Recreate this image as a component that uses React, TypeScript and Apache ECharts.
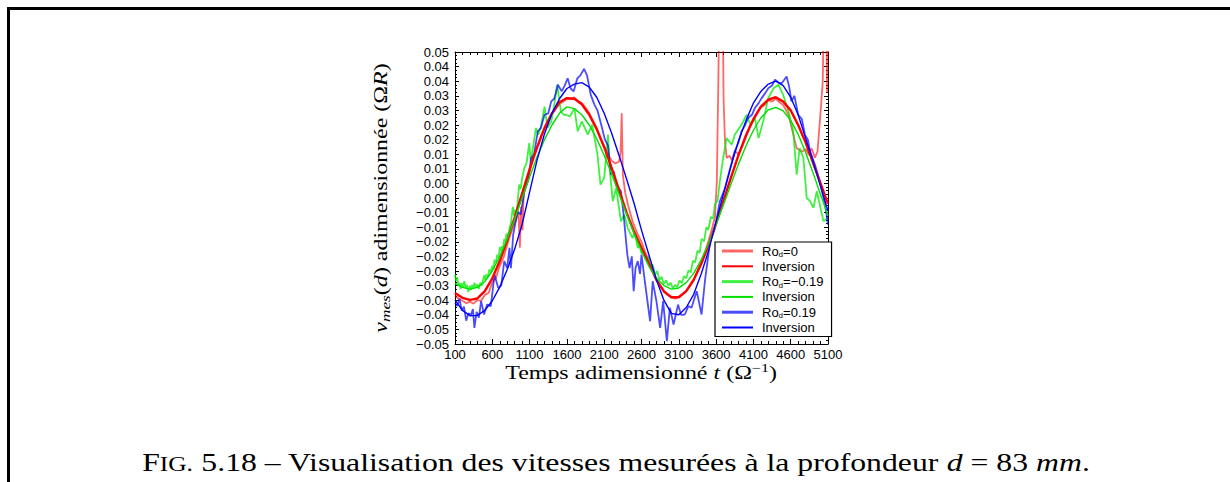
import React, { useEffect, useRef } from 'react';
import * as echarts from 'echarts';

// ---- tick labels ----
const xTickValues = [100, 600, 1100, 1600, 2100, 2600, 3100, 3600, 4100, 4600, 5100];
const xTickLabels = ['100', '600', '1100', '1600', '2100', '2600', '3100', '3600', '4100', '4600', '5100'];
// bottom (-0.05) to top (0.05), every 0.005
const yTickLabels = [
  '\u22120.05', '\u22120.05', '\u22120.04', '\u22120.04', '\u22120.03', '\u22120.03', '\u22120.02', '\u22120.02',
  '\u22120.01', '\u22120.01', '0.00', '0.00', '0.01', '0.01', '0.02', '0.02', '0.03', '0.03', '0.04', '0.04', '0.05',
];

// ---- legend labels ----
const seriesNames = ['Ro_d=0', 'inv_r', 'Ro_d=-0.19', 'inv_g', 'Ro_d=0.19', 'inv_b'];
const legendLabels = ['Ro{sub|d}=0', 'Inversion', 'Ro{sub|d}=\u22120.19', 'Inversion', 'Ro{sub|d}=0.19', 'Inversion'];

// ---- inversion curves (sampled every 100) ----
const invTimes = [
  100, 200, 300, 400, 500, 600, 700, 800, 900, 1000, 1100, 1200, 1300, 1400, 1500, 1600, 1700, 1800, 1900, 2000,
  2100, 2200, 2300, 2400, 2500, 2600, 2700, 2800, 2900, 3000, 3100, 3200, 3300, 3400, 3500, 3600, 3700, 3800, 3900,
  4000, 4100, 4200, 4300, 4400, 4500, 4600, 4700, 4800, 4900, 5000, 5100,
];
const redInversion = [
  -0.0325, -0.0342, -0.0349, -0.0344, -0.0319, -0.0275, -0.0216, -0.0145, -0.0067, 0.0016, 0.0098, 0.0173, 0.024,
  0.029, 0.0328, 0.0342, 0.034, 0.0321, 0.0285, 0.0236, 0.0174, 0.0103, 0.0027, -0.005, -0.0115, -0.017, -0.0225,
  -0.028, -0.032, -0.034, -0.034, -0.0319, -0.028, -0.0226, -0.0161, -0.0087, -0.0008, 0.0071, 0.0147, 0.0214, 0.027,
  0.0313, 0.0337, 0.0345, 0.033, 0.03, 0.025, 0.019, 0.012, 0.005, -0.002,
];
const greenInversion = [
  -0.0292, -0.0306, -0.0312, -0.0306, -0.0286, -0.025, -0.02, -0.014, -0.0072, 0.0, 0.0072, 0.014, 0.02, 0.025, 0.029,
  0.0312, 0.0306, 0.0285, 0.025, 0.0203, 0.0146, 0.0082, 0.0013, -0.0056, -0.0122, -0.0182, -0.0234, -0.0274, -0.03,
  -0.0312, -0.0308, -0.029, -0.0258, -0.0212, -0.0156, -0.0092, -0.0022, 0.0048, 0.0116, 0.0178, 0.0232, 0.0274,
  0.0302, 0.031, 0.0298, 0.0266, 0.0218, 0.0156, 0.0086, 0.0012, -0.006,
];
const blueInversion = [
  -0.035, -0.0385, -0.0403, -0.0402, -0.0385, -0.0352, -0.0305, -0.0245, -0.0175, -0.009, 0.002, 0.013, 0.022, 0.029,
  0.034, 0.0375, 0.039, 0.0395, 0.038, 0.0345, 0.029, 0.0222, 0.0145, 0.0065, -0.0018, -0.011, -0.0195, -0.028,
  -0.035, -0.0395, -0.04, -0.0375, -0.033, -0.026, -0.018, -0.008, 0.0015, 0.011, 0.0195, 0.0265, 0.0325, 0.0365,
  0.039, 0.04, 0.0385, 0.0345, 0.0285, 0.0205, 0.0125, 0.004, -0.0045,
];

// ---- measured velocities [t, v] ----
const redMeasured = [
  [100, -0.0335], [150, -0.0345], [200, -0.0352], [250, -0.036], [300, -0.0355], [350, -0.0362], [400, -0.035],
  [450, -0.0352], [500, -0.0332], [550, -0.0325], [600, -0.029], [650, -0.0272], [700, -0.0232], [750, -0.0205],
  [800, -0.016], [850, -0.012], [900, -0.0085], [950, -0.005], [970, -0.017], [985, -0.003], [1005, -0.011],
  [1020, 0.001], [1050, 0.0045], [1100, 0.009], [1150, 0.014], [1200, 0.0172], [1250, 0.021], [1300, 0.0238],
  [1350, 0.0262], [1400, 0.0288], [1450, 0.0305], [1500, 0.0322], [1550, 0.033], [1600, 0.034], [1650, 0.0338],
  [1700, 0.0345], [1750, 0.0332], [1800, 0.0325], [1850, 0.031], [1900, 0.029], [1950, 0.0265], [2000, 0.0238],
  [2050, 0.0205], [2100, 0.0178], [2150, 0.015], [2200, 0.0128], [2250, 0.0118], [2300, 0.0125], [2320, 0.016],
  [2335, 0.029], [2350, 0.008], [2380, 0.002], [2420, -0.0025], [2480, -0.008], [2550, -0.0125], [2600, -0.015],
  [2650, -0.0185], [2700, -0.0215], [2750, -0.025], [2800, -0.0282], [2850, -0.03], [2900, -0.0318], [2950, -0.033],
  [3000, -0.034], [3050, -0.0345], [3100, -0.0338], [3150, -0.033], [3200, -0.0318], [3250, -0.03], [3300, -0.028],
  [3350, -0.025], [3400, -0.0218], [3450, -0.0185], [3500, -0.0145], [3550, -0.01], [3585, -0.0065], [3610, 0.0057],
  [3630, 0.04], [3645, 0.07], [3670, 0.08], [3690, 0.065], [3700, 0.034], [3720, 0.019], [3742, 0.0137],
  [3780, 0.0145], [3810, 0.013], [3855, 0.016], [3900, 0.015], [3940, 0.017], [4000, 0.021], [4050, 0.0245],
  [4100, 0.0265], [4150, 0.029], [4200, 0.031], [4250, 0.0318], [4300, 0.0335], [4350, 0.033], [4400, 0.034],
  [4450, 0.0328], [4500, 0.0318], [4570, 0.0285], [4635, 0.0217], [4680, 0.017], [4750, 0.0158], [4800, 0.0168],
  [4840, 0.0148], [4880, 0.017], [4925, 0.0138], [4960, 0.016], [4980, 0.0228], [5005, 0.031], [5030, 0.04],
  [5045, 0.07], [5075, 0.065], [5088, 0.036], [5100, 0.06],
];
const greenMeasured = [
  [100, -0.0262], [115, -0.0285], [130, -0.0272], [145, -0.03], [160, -0.029], [175, -0.0312], [190, -0.0292],
  [210, -0.0305], [225, -0.0285], [245, -0.031], [260, -0.0298], [280, -0.0322], [300, -0.03], [315, -0.0315],
  [330, -0.0298], [345, -0.0312], [360, -0.029], [380, -0.0308], [400, -0.0295], [420, -0.0312], [440, -0.029],
  [460, -0.03], [490, -0.0265], [505, -0.028], [520, -0.0262], [540, -0.0272], [560, -0.0245], [580, -0.0255],
  [600, -0.0232], [615, -0.0245], [630, -0.0212], [650, -0.0222], [665, -0.0195], [685, -0.0205], [700, -0.0168],
  [715, -0.0182], [730, -0.0165], [745, -0.017], [760, -0.014], [775, -0.015], [790, -0.0122], [810, -0.013],
  [830, -0.0105], [850, -0.0085], [875, -0.003], [890, -0.006], [900, -0.004], [920, -0.0055], [940, -0.0015],
  [960, 0.0046], [980, 0.003], [1000, 0.0068], [1030, 0.0103],
  [1060, 0.012], [1095, 0.0188], [1115, 0.0125], [1150, 0.018], [1185, 0.024], [1215, 0.0217], [1250, 0.024],
  [1300, 0.0313], [1340, 0.024], [1390, 0.0262], [1430, 0.0319], [1470, 0.0388], [1520, 0.0296], [1560, 0.0285],
  [1590, 0.0285], [1640, 0.0279], [1700, 0.0308], [1745, 0.0228], [1800, 0.0262], [1840, 0.024], [1880, 0.0217],
  [1940, 0.0251], [2010, 0.0148], [2050, 0.0046], [2100, 0.0068], [2150, 0.0217], [2180, 0.008], [2215, -0.0011],
  [2260, 0.0034], [2325, -0.008], [2370, -0.0057], [2415, -0.0103], [2480, -0.0137], [2510, -0.012],
  [2550, -0.0171], [2575, -0.016], [2600, -0.019], [2630, -0.0178], [2660, -0.0212], [2690, -0.02], [2720, -0.0235],
  [2750, -0.0228], [2780, -0.0262], [2810, -0.025], [2840, -0.028], [2870, -0.027], [2900, -0.0295], [2930, -0.0282],
  [2960, -0.03], [2990, -0.029], [3020, -0.031], [3050, -0.0298], [3080, -0.0305], [3110, -0.0282], [3140, -0.0292],
  [3170, -0.0268], [3200, -0.0275], [3230, -0.0248], [3260, -0.0255], [3290, -0.0215], [3320, -0.022],
  [3350, -0.018], [3380, -0.0188], [3405, -0.014], [3440, -0.0148], [3470, -0.01], [3495, -0.011], [3530, -0.0065],
  [3560, -0.007], [3585, -0.002], [3620, -0.001], [3650, 0.0057], [3695, 0.0137], [3740, 0.0205], [3810, 0.0183],
  [3850, 0.0217], [3940, 0.0251], [4010, 0.0285], [4060, 0.0251], [4120, 0.0274], [4170, 0.0205], [4230, 0.0262],
  [4300, 0.0342], [4370, 0.0376], [4435, 0.0388], [4500, 0.0353], [4570, 0.0296], [4635, 0.0228], [4680, 0.008],
  [4720, 0.0171], [4770, 0.0137], [4815, 0.0], [4860, -0.0011], [4905, -0.0034], [4950, 0.0023], [4990, -0.0023],
  [5040, -0.008], [5100, -0.0068],
];
const blueMeasured = [
  [100, -0.036], [130, -0.037], [160, -0.0345], [190, -0.0385], [220, -0.0372], [250, -0.042], [280, -0.0395],
  [315, -0.04], [340, -0.038], [360, -0.0445], [390, -0.039], [420, -0.041], [450, -0.0353], [490, -0.0399],
  [530, -0.0365], [580, -0.037], [630, -0.0262], [680, -0.0308], [720, -0.03], [760, -0.0216], [800, -0.024],
  [830, -0.0171], [850, -0.024], [880, -0.0125], [940, -0.0046], [980, -0.0057], [1030, 0.0023], [1080, 0.006],
  [1120, 0.0137], [1160, 0.015], [1210, 0.0228], [1250, 0.024], [1300, 0.0285], [1350, 0.029], [1390, 0.0331],
  [1430, 0.034], [1480, 0.0388], [1530, 0.0365], [1570, 0.0385], [1610, 0.041], [1650, 0.0375], [1690, 0.0365],
  [1740, 0.041], [1780, 0.042], [1830, 0.0442], [1870, 0.042], [1920, 0.0353], [1970, 0.0319], [2010, 0.03],
  [2060, 0.0251], [2110, 0.02], [2150, 0.018], [2190, 0.008], [2230, 0.009], [2260, 0.0045], [2325, 0.0023],
  [2360, -0.0057], [2410, -0.0194], [2440, -0.024], [2470, -0.02], [2495, -0.0319], [2520, -0.024], [2550, -0.0216],
  [2580, -0.026], [2600, -0.0194], [2650, -0.0296], [2715, -0.0422], [2750, -0.0285], [2800, -0.0353],
  [2850, -0.0445], [2890, -0.0353], [2940, -0.049], [2980, -0.0376], [3030, -0.0433], [3090, -0.0365],
  [3130, -0.04], [3180, -0.0399], [3230, -0.037], [3270, -0.0376], [3340, -0.0319], [3405, -0.0399],
  [3450, -0.0285], [3520, -0.0148], [3585, -0.0103], [3650, -0.0011], [3720, 0.0034], [3790, 0.0103],
  [3850, 0.016], [3900, 0.019], [3940, 0.0228], [3990, 0.025], [4030, 0.0274], [4080, 0.0285], [4120, 0.0308],
  [4170, 0.0325], [4210, 0.0342], [4260, 0.036], [4300, 0.0376], [4350, 0.0385], [4390, 0.0405], [4440, 0.0395],
  [4480, 0.0393], [4545, 0.0416], [4580, 0.038], [4610, 0.0331], [4650, 0.035], [4700, 0.0285], [4750, 0.027],
  [4790, 0.0217], [4830, 0.02], [4860, 0.016], [4925, 0.0114], [4990, 0.0057], [5060, -0.0023], [5100, -0.0091],
];

const pair = (vals: number[]) => vals.map((v, i) => [invTimes[i], v]);

const black = '#000';
const sans = 'Liberation Sans';
const serif = 'Liberation Serif';

function xLabel(v: number) {
  const i = xTickValues.indexOf(Math.round(v));
  return i >= 0 ? xTickLabels[i] : '';
}
function yLabel(v: number) {
  const i = Math.round(v / 0.005) + 10;
  return yTickLabels[i] ?? '';
}

const baseX = {
  type: 'value', min: 100, max: 5100, splitLine: { show: false },
};
const baseY = {
  type: 'value', min: -0.05, max: 0.05, interval: 0.005, splitLine: { show: false },
  axisLine: { show: true, onZero: false, lineStyle: { color: black, width: 1 } },
  axisTick: { show: true, inside: true, length: 4, lineStyle: { color: black, width: 1 } },
  minorTick: { show: true, splitNumber: 4, length: 2, lineStyle: { color: black, width: 1 } },
};

function line(name: string, data: number[][], color: string, width: number, z: number) {
  return {
    type: 'line', name, data, symbol: 'none', showSymbol: false, clip: true, silent: true,
    lineStyle: { color, width }, itemStyle: { color }, z,
  };
}

const thickIcon = 'path://M0 0H31V3H0Z';
const thinIcon = 'path://M0 0H31V2H0Z';

export default function App() {
  const ref = useRef<HTMLDivElement>(null);
  useEffect(() => {
    const chart = echarts.init(ref.current!, null, { renderer: 'svg' });
    const option: any = {
      animation: false,
      backgroundColor: '#fff',
      grid: { left: 455, top: 52, width: 373, height: 292, containLabel: false },
      xAxis: [
        {
          ...baseX, interval: 100, position: 'bottom',
          axisLine: { show: true, onZero: false, lineStyle: { color: black, width: 1 } },
          axisTick: { show: true, inside: true, length: 3, lineStyle: { color: black, width: 1 } },
          axisLabel: { formatter: xLabel, fontFamily: sans, fontSize: 13, color: black, margin: 4, showMinLabel: true, showMaxLabel: true },
        },
        {
          ...baseX, position: 'bottom',
          axisLine: { show: false, onZero: false },
          axisTick: { show: true, inside: true, length: 5, customValues: xTickValues, lineStyle: { color: black, width: 1 } },
          axisLabel: { show: false },
        },
        {
          ...baseX, interval: 100, position: 'top',
          axisLine: { show: true, onZero: false, lineStyle: { color: black, width: 1 } },
          axisTick: { show: true, inside: true, length: 3, lineStyle: { color: black, width: 1 } },
          axisLabel: { show: false },
        },
        {
          ...baseX, position: 'top',
          axisLine: { show: false, onZero: false },
          axisTick: { show: true, inside: true, length: 5, customValues: xTickValues, lineStyle: { color: black, width: 1 } },
          axisLabel: { show: false },
        },
      ],
      yAxis: [
        {
          ...baseY, position: 'left',
          axisLabel: { formatter: yLabel, fontFamily: sans, fontSize: 13, color: black, margin: 6, showMinLabel: true, showMaxLabel: true },
        },
        { ...baseY, position: 'right', axisLabel: { show: false } },
      ],
      legend: {
        orient: 'vertical', left: 715, top: 242, selectedMode: false,
        data: seriesNames.map((name, i) => ({ name, icon: i % 2 === 0 ? thickIcon : thinIcon })),
        padding: [1.5, 8, 1.5, 7], itemWidth: 31, itemHeight: 15, itemGap: 0.3,
        backgroundColor: '#fff', borderColor: black, borderWidth: 1.2, borderRadius: 0,
        formatter: (name: string) => legendLabels[seriesNames.indexOf(name)],
        textStyle: {
          fontFamily: sans, fontSize: 13, color: black, lineHeight: 15, padding: [0, 0, 0, 4],
          rich: { sub: { fontFamily: sans, fontSize: 8, color: black, verticalAlign: 'bottom', lineHeight: 15 } },
        },
      },
      series: [
        line(seriesNames[0], redMeasured, 'rgba(255,0,0,0.6)', 1.8, 2),
        line(seriesNames[1], pair(redInversion), '#ff0000', 2.4, 3),
        line(seriesNames[2], greenMeasured, 'rgba(0,235,0,0.75)', 1.8, 2),
        line(seriesNames[3], pair(greenInversion), '#00e000', 1.4, 3),
        line(seriesNames[4], blueMeasured, 'rgba(0,0,255,0.7)', 1.8, 2),
        line(seriesNames[5], pair(blueInversion), '#0000ff', 1.4, 3),
      ],
      graphic: [
        { type: 'rect', shape: { x: 7, y: 7, width: 1223, height: 3 }, style: { fill: black } },
        { type: 'rect', shape: { x: 7, y: 7, width: 3, height: 475 }, style: { fill: black } },
        {
          type: 'text', x: 641, y: 373, scaleX: 1.33,
          style: {
            text: 'Temps adimensionn\u00e9 {it|t} (\u03a9{sup|\u22121})',
            fontFamily: serif, fontSize: 18, fill: black, align: 'center', verticalAlign: 'middle', lineHeight: 22,
            rich: {
              it: { fontFamily: serif, fontSize: 18, fontStyle: 'italic', fill: black, lineHeight: 22 },
              sup: { fontFamily: serif, fontSize: 12, fill: black, verticalAlign: 'top', lineHeight: 22 },
            },
          },
        },
        {
          type: 'text', x: 381, y: 198, rotation: Math.PI / 2, scaleX: 1.33,
          style: {
            text: '{it|v}{sub|mes}({it|d}) adimensionn\u00e9e (\u03a9{it|R})',
            fontFamily: serif, fontSize: 18, fill: black, align: 'center', verticalAlign: 'middle', lineHeight: 22,
            rich: {
              it: { fontFamily: serif, fontSize: 18, fontStyle: 'italic', fill: black, lineHeight: 22 },
              sub: { fontFamily: serif, fontSize: 13, fontStyle: 'italic', fill: black, verticalAlign: 'bottom', lineHeight: 22 },
            },
          },
        },
        {
          type: 'text', x: 616, y: 463, scaleX: 1.27,
          style: {
            text: 'F{sc|IG.} 5.18 \u2013 Visualisation des vitesses mesur\u00e9es \u00e0 la profondeur {it|d} = 83 {it|mm}.',
            fontFamily: serif, fontSize: 25, fill: black, align: 'center', verticalAlign: 'middle', lineHeight: 23,
            rich: {
              sc: { fontFamily: serif, fontSize: 20, fill: black, verticalAlign: 'bottom', lineHeight: 20 },
              it: { fontFamily: serif, fontSize: 25, fontStyle: 'italic', fill: black, lineHeight: 23 },
            },
          },
        },
      ],
    };
    chart.setOption(option);
    return () => chart.dispose();
  }, []);
  return (
    <div
      ref={ref}
      style={{ position: 'fixed', left: 0, top: 0, width: 1230, height: 482, background: '#fff' }}
    />
  );
}
